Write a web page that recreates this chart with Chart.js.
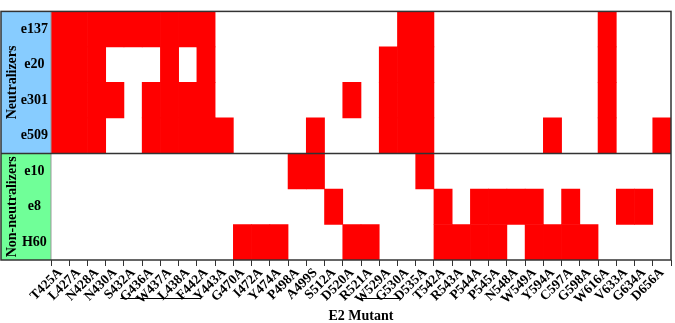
<!DOCTYPE html>
<html><head><meta charset="utf-8">
<script src="https://cdn.jsdelivr.net/npm/chart.js@4/dist/chart.umd.min.js"></script>
<style>html,body{margin:0;padding:0;background:#fff}</style>
</head><body>
<canvas id="c" width="675" height="323"></canvas>
<script>
const mutants = ['T425A','L427A','N428A','N430A','S432A','G436A','W437A','L438A','F442A','Y443A',
  'G470A','I472A','Y474A','P498A','A499S','S512A','D520A','R521A','W529A','G530A',
  'D535A','T542A','R543A','P544A','P545A','N548A','W549A','Y594A','C597A','G598A',
  'W616A','V633A','G634A','D656A'];
const antibodies = ['e137','e20','e301','e509','e10','e8','H60'];
const groupNames = ['Neutralizers','Non-neutralizers'];
const groupSizes = [4,3];
const underlineGroups = [['G436A','F442A'],['W529A','G530A']];

const e137 = [1,1,1,1,1,1,1,1,1,0, 0,0,0,0,0,0,0,0,0,1, 1,0,0,0,0,0,0,0,0,0, 1,0,0,0];
const e20  = [1,1,1,0,0,0,1,0,1,0, 0,0,0,0,0,0,0,0,1,1, 1,0,0,0,0,0,0,0,0,0, 1,0,0,0];
const e301 = [1,1,1,1,0,1,1,1,1,0, 0,0,0,0,0,0,1,0,1,1, 1,0,0,0,0,0,0,0,0,0, 1,0,0,0];
const e509 = [1,1,1,0,0,1,1,1,1,1, 0,0,0,0,1,0,0,0,1,1, 1,0,0,0,0,0,0,1,0,0, 1,0,0,1];
const e10  = [0,0,0,0,0,0,0,0,0,0, 0,0,0,1,1,0,0,0,0,0, 1,0,0,0,0,0,0,0,0,0, 0,0,0,0];
const e8   = [0,0,0,0,0,0,0,0,0,0, 0,0,0,0,0,1,0,0,0,0, 0,1,0,1,1,1,1,0,1,0, 0,1,1,0];
const H60  = [0,0,0,0,0,0,0,0,0,0, 1,1,1,0,0,0,1,1,0,0, 0,1,1,1,1,0,1,1,1,1, 0,0,0,0];
const matrix = [e137,e20,e301,e509,e10,e8,H60];

const serif = 'Liberation Serif';
const panelColors = ['#87CCFF','#70FF98'];

const panelPlugin = {
  id:'panel',
  beforeDraw(chart){
    const {ctx, chartArea:{left}, scales:{y}} = chart;
    const pl = 1;
    let start = 0;
    groupSizes.forEach((n,i)=>{
      const y0 = y.getPixelForValue(start), y1 = y.getPixelForValue(start+n);
      ctx.save();
      ctx.fillStyle = panelColors[i];
      ctx.fillRect(pl, y0, left-pl, y1-y0);
      ctx.restore();
      start += n;
    });
  },
  afterDraw(chart){
    const {ctx, chartArea:{left,top,right,bottom}, scales:{x,y}} = chart;
    const pl = 1;
    ctx.save();
    let start = 0;
    ctx.fillStyle = '#000';
    ctx.font = 'bold 14px "'+serif+'"';
    ctx.textAlign = 'center'; ctx.textBaseline = 'middle';
    groupNames.forEach((g,i)=>{
      const y0 = y.getPixelForValue(start), y1 = y.getPixelForValue(start+groupSizes[i]);
      ctx.save();
      ctx.translate(pl+11, (y0+y1)/2);
      ctx.rotate(-Math.PI/2);
      ctx.fillText(g,0,0);
      ctx.restore();
      start += groupSizes[i];
    });
    ctx.strokeStyle = '#999'; ctx.lineWidth = 1;
    ctx.beginPath(); ctx.moveTo(left, top); ctx.lineTo(left, bottom); ctx.stroke();
    const ys = Math.round(y.getPixelForValue(groupSizes[0]))+0.5;
    ctx.strokeStyle = '#333'; ctx.lineWidth = 1.5;
    ctx.beginPath(); ctx.moveTo(pl, ys); ctx.lineTo(right, ys); ctx.stroke();
    ctx.strokeStyle = '#333'; ctx.lineWidth = 1.5;
    ctx.strokeRect(pl, top, right-pl, bottom-top);
    ctx.strokeStyle = '#000'; ctx.lineWidth = 1;
    underlineGroups.forEach(([a,b])=>{
      const xa = x.getPixelForValue(mutants.indexOf(a)) - 31;
      const xb = x.getPixelForValue(mutants.indexOf(b)) - 5;
      const yy = bottom + 38.5;
      ctx.beginPath(); ctx.moveTo(xa, yy); ctx.lineTo(xb, yy); ctx.stroke();
    });
    ctx.restore();
  }
};

new Chart(document.getElementById('c').getContext('2d'), {
  type:'bar',
  data:{
    labels: mutants,
    datasets: antibodies.map((ab,r)=>({
      label: ab,
      data: matrix[r].map(v => v ? [r, r+1] : null),
      backgroundColor:'#ff0000',
      borderWidth:0,
      grouped:false,
      barPercentage:1,
      categoryPercentage:1
    }))
  },
  options:{
    responsive:false, animation:false, devicePixelRatio:1,
    layout:{padding:{left:1, top:3, right:4, bottom:0}},
    plugins:{legend:{display:false}, tooltip:{enabled:false}},
    scales:{
      x:{
        offset:true,
        grid:{offset:true, drawOnChartArea:false, drawTicks:true, tickLength:6, color:'#333'},
        border:{display:false},
        ticks:{autoSkip:false, maxRotation:45, minRotation:45, padding:-1, color:'#000',
          font:{family:serif, weight:'bold', size:13.5}},
        title:{display:true, text:'E2 Mutant', color:'#000',
          font:{family:serif, weight:'bold', size:14}, padding:{top:0, bottom:-2}},
        afterFit(s){ s.height = 63; }
      },
      y:{
        type:'linear', min:0, max:7, reverse:true,
        grid:{display:false, drawTicks:false}, border:{display:false},
        afterBuildTicks(s){ s.ticks = antibodies.map((_,i)=>({value:i+0.5})); },
        ticks:{crossAlign:'center', padding:3, color:'#000',
          font:{family:serif, weight:'bold', size:14},
          callback:(v)=>antibodies[Math.floor(v)]},
        afterFit(s){ s.width = 50; }
      }
    }
  },
  plugins:[panelPlugin]
});
</script>
</body></html>
